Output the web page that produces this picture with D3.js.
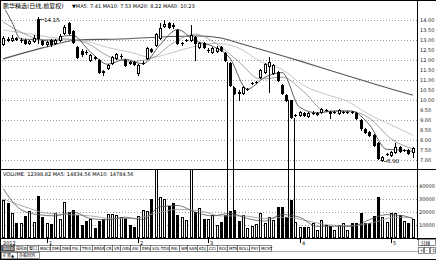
<!DOCTYPE html>
<html><head><meta charset="utf-8">
<script src="https://cdn.jsdelivr.net/npm/d3@7"></script>
<style>
html,body{margin:0;padding:0;background:#fff;overflow:hidden;}
svg{display:block;}
text{font-family:"DejaVu Sans","Noto Sans CJK SC",sans-serif;}
</style></head><body>
<svg id="chart" width="436" height="260"></svg>
<script>
// ---- daily bars ----
const opens = [12.8,13.05,13.0,13.08,13.0,13.0,12.85,12.95,14.05,12.95,
12.8,13.0,12.85,13.0,13.35,13.85,13.45,12.65,12.45,12.4,
12.0,12.15,12.0,11.42,11.6,11.85,12.1,12.2,12.0,11.9,
11.9,11.35,11.85,12.1,12.55,12.75,13.1,13.7,13.85,13.75,
13.5,12.85,13.0,13.0,13.15,12.65,12.85,12.5,12.4,12.45,
12.65,12.35,11.85,10.6,10.4,10.35,10.55,10.85,10.9,11.15,
11.4,11.7,11.35,11.4,10.75,10.25,10.0,9.25,9.25,9.35,
9.2,9.35,9.3,9.4,9.5,9.4,9.4,9.35,9.4,9.38,
9.4,9.35,9.0,8.55,8.4,8.25,7.85,7.0,7.3,7.25,
7.4,7.65,7.5,7.5,7.4];
const highs = [13.2,13.15,13.25,13.15,13.1,13.05,13.02,13.25,14.15,13.0,
12.95,13.05,13.05,13.3,13.75,13.9,13.5,12.7,12.55,12.5,
12.3,12.2,12.05,11.5,11.8,12.2,12.35,12.3,12.05,11.95,
11.95,11.8,11.95,12.65,12.6,13.35,13.85,14.0,13.9,13.85,
13.55,12.9,13.05,13.75,13.2,12.9,12.9,12.6,12.65,12.7,
12.7,12.4,11.9,10.65,10.5,10.7,10.6,10.9,10.95,11.55,
11.85,12.15,11.8,11.45,10.8,10.3,10.0,9.3,9.45,9.4,
9.4,9.45,9.4,9.6,9.55,9.45,9.45,9.55,9.45,9.45,
9.45,9.4,9.05,8.6,8.45,8.3,7.9,7.2,7.35,7.45,
7.85,7.7,7.55,7.55,7.65];
const lows = [12.75,12.95,12.95,12.98,12.9,12.8,12.8,12.9,12.85,12.75,
12.72,12.72,12.8,12.95,13.3,13.3,12.85,12.1,12.2,12.3,
11.95,12.05,11.35,11.25,11.55,11.8,12.05,12.1,11.7,11.8,
11.75,11.25,11.8,12.05,12.4,12.7,13.05,13.65,13.6,13.6,
12.8,12.75,12.95,12.95,12.0,12.6,12.6,12.4,12.35,12.4,
12.45,11.95,10.7,10.3,10.0,10.3,10.5,10.8,10.85,11.1,
11.35,10.4,11.3,10.95,10.3,9.95,9.1,9.2,9.2,9.2,
9.15,9.3,9.25,9.35,9.45,9.1,9.35,9.3,9.35,9.35,
9.35,9.05,8.5,8.35,8.2,7.7,7.05,6.9,7.25,7.2,
7.35,7.4,7.45,7.3,7.15];
const closes = [13.1,13.0,13.12,13.05,13.0,12.85,12.97,13.12,13.1,12.8,
12.9,12.78,13.0,13.2,13.65,13.35,12.9,12.15,12.3,12.38,
12.25,12.1,11.4,11.4,11.75,12.15,12.3,12.2,11.75,11.85,
11.8,11.75,11.85,12.6,12.45,13.3,13.6,13.8,13.65,13.7,
12.85,12.85,13.0,13.25,12.85,12.85,12.65,12.5,12.6,12.6,
12.5,12.0,10.75,10.35,10.35,10.65,10.55,10.85,10.9,11.5,
11.8,11.9,11.75,11.0,10.35,10.0,9.15,9.25,9.4,9.25,
9.35,9.35,9.35,9.55,9.5,9.35,9.4,9.5,9.4,9.4,
9.38,9.1,8.6,8.4,8.25,7.75,7.1,7.15,7.3,7.4,
7.65,7.45,7.5,7.35,7.6];
const volumes = [29000,27000,19200,11500,11500,16900,20800,12300,32300,16200,
11500,10800,19200,14600,27700,20000,21500,17700,10000,13000,
14600,7700,13000,14600,18500,18500,17700,16200,15400,10000,
8500,16900,21500,20800,30000,62000,31500,30000,24600,26900,
17700,16200,14000,60000,20000,23000,14600,14600,17700,10000,
12300,17700,21000,21500,13000,17700,7700,9200,11000,19200,
11500,16200,13800,23800,23800,16200,29000,12300,8500,8500,
8500,11500,6200,13800,10000,9200,6200,10000,11500,6200,
11500,11500,19200,11500,11500,16900,31500,16200,12300,19200,
19200,17700,13000,11500,14600];

// ---- moving averages, sampled as [bar index, value] ----
const ma5Pts = [[0,14.7],[2,13.9],[4,13.05],[8,13.01],[12,12.92],[14,13.2],[16,13.22],[20,12.4],[24,11.78],[28,12.03],[32,11.8],[36,12.76],[40,13.52],[44,12.96],[48,12.69],[52,12.09],[56,10.53],[60,11.12],[64,11.36],[68,9.63],[72,9.34],[76,9.43],[80,9.42],[84,8.75],[88,7.51],[92,7.46],[94,7.41]];
const ma10Pts = [[0,13.9],[4,13.4],[9,13.02],[14,13.04],[19,12.86],[24,12.2],[29,11.92],[34,12.07],[39,12.85],[44,13.29],[49,12.8],[54,11.92],[59,11.04],[64,11.13],[69,10.39],[74,9.42],[79,9.45],[84,9.08],[89,8.04],[94,7.53]];
const ma20Pts = [[0,13.5],[6,13.3],[12,13.1],[19,12.94],[24,12.62],[29,12.39],[34,12.13],[39,12.38],[44,12.68],[49,12.83],[54,12.6],[59,11.92],[64,11.52],[69,10.71],[74,10.27],[79,9.92],[84,9.25],[89,8.74],[94,8.22]];
const ma60Pts = [[0,12.05],[9,12.6],[17,13.0],[27,13.05],[36,13.15],[45,13.2],[50,13.1],[54,12.85],[68,11.95],[79,11.2],[92,10.35],[94,10.23]];
const vma5Pts = [[0,38000],[4,22000],[8,18000],[12,17000],[16,20000],[20,15000],[24,14000],[28,16000],[32,14000],[36,24000],[40,25000],[44,20000],[48,17000],[52,19000],[56,15000],[60,13000],[64,18000],[68,16000],[72,9000],[76,9000],[80,9000],[84,14000],[88,18000],[92,17000],[94,15000]];
const vma10Pts = [[0,30000],[5,24000],[10,19000],[15,18000],[20,17000],[25,15000],[30,15000],[35,19000],[40,22000],[45,21000],[50,17000],[55,17000],[60,15000],[65,16000],[70,13000],[75,10000],[80,9500],[85,12000],[90,16000],[94,15500]];

// ---- axis labels ----
const priceTicks = [14,13.5,13,12.5,12,11.5,11,10.5,10,9.5,9,8.5,8,7.5,7];
const priceGrid = [14,13,12,11,10,9,8,7];
const volTicks = [40000,30000,20000,10000];
const monthMarks = [[10,"1"],[31,"2"],[47,"3"],[68,"4"],[89,"5"]];
const highlightDays = [52,66];
const tabs = ["指标A","指标B","窗口","MACD","DMI","DMA","FSL","TRIX","BRAR","CR","VR","OBV","ASI","EMV","VOL-TDX","RSI","WR","SAR","KDJ","CCI","ROC","MTM","BOLL","PSY","MCST"];
const title = "鹏华精选(日线,前复权)";
const maLegend = "MA5: 7.41  MA10: 7.53  MA20: 8.22  MA60: 10.23";
const volLegend = "VOLUME: 12398.82  MA5: 14834.56  MA10: 14784.56";

const svg = d3.select("#chart");
const W = 436, H = 260;
const axisX = 417;
const pTop = 10, pBot = 169, vTop = 169, vBot = 238;

const n = closes.length;
const x = d3.scaleBand().domain(d3.range(n)).range([1, 415]);
const cx = i => Math.round(x(i) + x.bandwidth()/2);
const yP = d3.scaleLinear().domain([7,14]).range([159.5,20]);
const yV = d3.scaleLinear().domain([0,40000]).range([vBot,186]);

svg.append("rect").attr("width",W).attr("height",H).attr("fill","#fff");

svg.append("clipPath").attr("id","pclip").append("rect").attr("x",0).attr("y",pTop).attr("width",axisX).attr("height",pBot-pTop);
svg.append("clipPath").attr("id","vclip").append("rect").attr("x",0).attr("y",vTop+1).attr("width",axisX).attr("height",vBot-vTop-1);

// grid
const grid = svg.append("g").attr("stroke","#9a9a9a").attr("stroke-dasharray","1,2").attr("shape-rendering","crispEdges");
priceGrid.forEach(p => grid.append("line").attr("x1",2).attr("x2",axisX).attr("y1",Math.round(yP(p))+0.5).attr("y2",Math.round(yP(p))+0.5));
volTicks.forEach(v => grid.append("line").attr("x1",2).attr("x2",axisX).attr("y1",Math.round(yV(v))+0.5).attr("y2",Math.round(yV(v))+0.5));

// frame
const frame = svg.append("g").attr("stroke","#000").attr("shape-rendering","crispEdges");
frame.append("line").attr("x1",0).attr("x2",W).attr("y1",0.5).attr("y2",0.5);
frame.append("line").attr("x1",0.5).attr("x2",0.5).attr("y1",0).attr("y2",H);
frame.append("line").attr("x1",axisX+0.5).attr("x2",axisX+0.5).attr("y1",0).attr("y2",vBot+2);
frame.append("line").attr("x1",0).attr("x2",W).attr("y1",pBot+0.5).attr("y2",pBot+0.5);
frame.append("line").attr("x1",0).attr("x2",W).attr("y1",vBot+0.5).attr("y2",vBot+0.5);
frame.append("line").attr("x1",0).attr("x2",W).attr("y1",H-0.5).attr("y2",H-0.5);

// highlighted day columns
const hl = svg.append("g").attr("stroke","#000").attr("shape-rendering","crispEdges");
highlightDays.forEach(i => {
  const c = cx(i);
  hl.append("line").attr("x1",c-2.5).attr("x2",c-2.5).attr("y1",yP(highs[i])).attr("y2",vBot);
  hl.append("line").attr("x1",c+3.5).attr("x2",c+3.5).attr("y1",yP(lows[i])).attr("y2",vBot);
});

// volume bars
const vg = svg.append("g").attr("clip-path","url(#vclip)").attr("shape-rendering","crispEdges");
volumes.forEach((v,i) => {
  const c = cx(i), top = Math.round(yV(v));
  const up = closes[i] >= opens[i];
  if (up) vg.append("rect").attr("x",c-0.5).attr("y",top+0.5).attr("width",2).attr("height",vBot-top-1).attr("fill","#fff").attr("stroke","#000");
  else vg.append("rect").attr("x",c-1).attr("y",top).attr("width",3).attr("height",vBot-top).attr("fill","#000");
});

// moving average lines
const lineP = d3.line().x(d => x(d[0]) + x.bandwidth()/2).y(d => yP(d[1])).curve(d3.curveMonotoneX);
const lineV = d3.line().x(d => x(d[0]) + x.bandwidth()/2).y(d => yV(d[1])).curve(d3.curveMonotoneX);
const pg = svg.append("g").attr("clip-path","url(#pclip)");
[[ma60Pts,"#555",1.1],[ma20Pts,"#b8b8b8",0.8],[ma10Pts,"#8a8a8a",0.8],[ma5Pts,"#333",0.8]].forEach(([pts,c,w]) =>
  pg.append("path").attr("d",lineP(pts)).attr("fill","none").attr("stroke",c).attr("stroke-width",w));
const vl = svg.append("g").attr("clip-path","url(#vclip)");
[[vma10Pts,"#999"],[vma5Pts,"#555"]].forEach(([pts,c]) =>
  vl.append("path").attr("d",lineV(pts)).attr("fill","none").attr("stroke",c).attr("stroke-width",0.8));

// candles
const cg = pg.append("g").attr("shape-rendering","crispEdges");
closes.forEach((cl,i) => {
  const c = cx(i), o = opens[i];
  const yh = Math.round(yP(highs[i])), yl = Math.round(yP(lows[i]));
  const yt = Math.round(yP(Math.max(o,cl))), yb = Math.round(yP(Math.min(o,cl)));
  cg.append("line").attr("x1",c+0.5).attr("x2",c+0.5).attr("y1",yh).attr("y2",yl+1).attr("stroke","#000");
  if (yb - yt < 1) {
    cg.append("rect").attr("x",c-1).attr("y",yt).attr("width",3).attr("height",1).attr("fill","#000");
  } else if (cl > o) {
    cg.append("rect").attr("x",c-0.5).attr("y",yt+0.5).attr("width",2).attr("height",yb-yt).attr("fill","#fff").attr("stroke","#000");
  } else {
    cg.append("rect").attr("x",c-1).attr("y",yt).attr("width",3).attr("height",yb-yt+1).attr("fill","#000");
  }
});

// extreme price notes
const iMax = d3.maxIndex(highs), iMin = d3.minIndex(lows);
const note = svg.append("g").attr("font-size",5.5).attr("fill","#000");
note.append("line").attr("x1",cx(iMax)+2).attr("x2",cx(iMax)+6).attr("y1",yP(highs[iMax])+2.5).attr("y2",yP(highs[iMax])+2.5).attr("stroke","#000").attr("stroke-width",0.6);
note.append("text").attr("x",cx(iMax)+6).attr("y",yP(highs[iMax])+4.5).text(highs[iMax].toFixed(2));
note.append("line").attr("x1",cx(iMin)+2).attr("x2",cx(iMin)+5).attr("y1",yP(lows[iMin])).attr("y2",yP(lows[iMin])).attr("stroke","#000").attr("stroke-width",0.6);
note.append("text").attr("x",cx(iMin)+5).attr("y",yP(lows[iMin])+2).text(lows[iMin].toFixed(2));

// right axes
const ax = svg.append("g").attr("font-size",5).attr("fill","#222");
priceTicks.forEach(p => ax.append("text").attr("x",420).attr("y",yP(p)+2).text(p.toFixed(2)));
volTicks.forEach(v => ax.append("text").attr("x",419).attr("y",yV(v)+2).text(v));

// legends
svg.append("text").attr("x",3).attr("y",7.5).attr("font-size",6).attr("fill","#000").text(title);
svg.append("text").attr("x",72).attr("y",7.5).attr("font-size",5).attr("fill","#000").text("▼"+maLegend);
svg.append("text").attr("x",3).attr("y",176).attr("font-size",5).attr("fill","#000").text(volLegend);

// date marks
const dm = svg.append("g").attr("font-size",5).attr("fill","#000");
dm.append("text").attr("x",3).attr("y",244.5).text("2012");
monthMarks.forEach(([i,t]) => {
  const c = cx(i);
  dm.append("line").attr("x1",c+0.5).attr("x2",c+0.5).attr("y1",vBot+1).attr("y2",vBot+5).attr("stroke","#000");
  dm.append("text").attr("x",c+2).attr("y",244.5).text(t);
});

// indicator tabs
const tg = svg.append("g").attr("font-size",4);
let tx = 1;
tabs.forEach((t,k) => {
  const w = Math.round(d3.sum(t, ch => ch.charCodeAt(0) > 255 ? 4 : 2.3)) + 3;
  tg.append("rect").attr("x",tx+0.5).attr("y",245.5).attr("width",w).attr("height",6).attr("fill",k===0?"#555":"#fff").attr("stroke","#444").attr("stroke-width",0.6);
  tg.append("text").attr("x",tx+2).attr("y",250.1).attr("fill",k===0?"#fff":"#000").text(t);
  tx += w;
});
svg.append("line").attr("x1",0).attr("x2",W).attr("y1",251.5).attr("y2",251.5).attr("stroke","#777").attr("stroke-width",0.6);
[["扩展▲",1,16],["多股同列",17,22]].forEach(([t,x0,w]) => {
  tg.append("rect").attr("x",x0+0.5).attr("y",252.5).attr("width",w).attr("height",6).attr("fill","#fff").attr("stroke","#444").attr("stroke-width",0.6);
  tg.append("text").attr("x",x0+2).attr("y",257.2).attr("fill","#000").text(t);
});
// period box
svg.append("rect").attr("x",418.5).attr("y",239.5).attr("width",17).attr("height",6).attr("fill","#fff").attr("stroke","#444").attr("stroke-width",0.6);
svg.append("text").attr("x",421).attr("y",244.5).attr("font-size",4.6).text("日线");
["+","-","↕"].forEach((t,k) => {
  svg.append("rect").attr("x",418.5+k*6).attr("y",247.5).attr("width",5).attr("height",6).attr("fill","#fff").attr("stroke","#444").attr("stroke-width",0.6);
  svg.append("text").attr("x",419.7+k*6).attr("y",252.3).attr("font-size",4.6).text(t);
});
</script>
</body></html>
